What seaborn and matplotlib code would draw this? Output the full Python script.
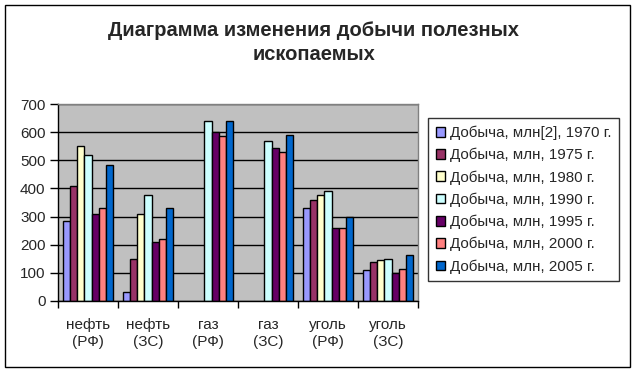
import numpy as np
import pandas as pd
import matplotlib
matplotlib.use("Agg")
import matplotlib.pyplot as plt
import seaborn as sns
from matplotlib.patches import Rectangle

# data
categories = ["нефть\n(РФ)", "нефть\n(ЗС)", "газ\n(РФ)", "газ\n(ЗС)", "уголь\n(РФ)", "уголь\n(ЗС)"]
series = ["Добыча, млн[2], 1970 г.", "Добыча, млн, 1975 г.", "Добыча, млн, 1980 г.",
          "Добыча, млн, 1990 г.", "Добыча, млн, 1995 г.", "Добыча, млн, 2000 г.",
          "Добыча, млн, 2005 г."]
y1970 = [285, 31, np.nan, np.nan, 330, 110]
y1975 = [410, 150, np.nan, np.nan, 360, 140]
y1980 = [550, 310, np.nan, np.nan, 375, 145]
y1990 = [520, 377, 640, 570, 390, 150]
y1995 = [310, 210, 600, 545, 260, 100]
y2000 = [330, 220, 588, 530, 260, 115]
y2005 = [485, 330, 640, 590, 300, 165]
colors = ["#9999FF", "#993366", "#FFFFCC", "#CCFFFF", "#660066", "#FF8080", "#0066CC"]
title_lines = ["Диаграмма изменения добычи полезных", "ископаемых"]

values = [y1970, y1975, y1980, y1990, y1995, y2000, y2005]
rows = []
for s, vals in zip(series, values):
    for c, v in zip(categories, vals):
        rows.append({"cat": c, "series": s, "value": v})
df = pd.DataFrame(rows)

sns.set_style("white")
plt.rcParams["font.family"] = ["Liberation Sans", "DejaVu Sans"]

fig = plt.figure(figsize=(6.32, 3.73), dpi=100)
ax = fig.add_axes([58 / 632, 1 - 301 / 373, 360 / 632, 197 / 373])
ax.set_facecolor("#C0C0C0")

sns.barplot(data=df, x="cat", y="value", hue="series", order=categories,
            hue_order=series, palette=colors, width=0.84, gap=0,
            edgecolor="black", linewidth=1, saturation=1, ax=ax, legend=True)

ax.set_ylim(0, 700)
ax.set_xlim(-0.5, 5.5)
ax.set_yticks(range(0, 701, 100))
ax.grid(axis="y", color="black", linewidth=1)
ax.set_axisbelow(True)
ax.set_xlabel("")
ax.set_ylabel("")
ax.tick_params(axis="y", labelsize=11, length=6, width=1, direction="out", left=True, color="black", pad=3)
ax.tick_params(axis="x", which="major", length=0, labelsize=11, pad=12)
ax.set_xticks(np.arange(-0.5, 6, 1), minor=True)
ax.tick_params(axis="x", which="minor", length=5, width=1, direction="out", bottom=True, color="black")
for lbl in ax.get_xticklabels():
    lbl.set_linespacing(1.3)
for side in ["left", "bottom"]:
    ax.spines[side].set_color("black")
    ax.spines[side].set_linewidth(1)
for side in ["top", "right"]:
    ax.spines[side].set_color("#808080")
    ax.spines[side].set_linewidth(1)

handles, labels = ax.get_legend_handles_labels()
ax.get_legend().remove()
leg = fig.legend(handles, labels, loc="upper left", bbox_to_anchor=(428 / 632, 1 - 118 / 373),
                 frameon=True, fancybox=False, edgecolor="black", fontsize=10.9,
                 handlelength=0.62, handleheight=0.62, handletextpad=0.35,
                 labelspacing=0.52, borderpad=0.5, borderaxespad=0)
leg.get_frame().set_linewidth(1)

fig.text(314 / 632, 1 - 30 / 373, title_lines[0], ha="center", va="center",
         fontsize=14.5, fontweight="bold")
fig.text(314 / 632, 1 - 55 / 373, title_lines[1], ha="center", va="center",
         fontsize=14.5, fontweight="bold")

fig.patches.append(Rectangle((5 / 632, 1 - 367 / 373), 625 / 632, 362 / 373,
                             transform=fig.transFigure, fill=False,
                             edgecolor="black", linewidth=1))

fig.savefig("out.png", dpi=100)
